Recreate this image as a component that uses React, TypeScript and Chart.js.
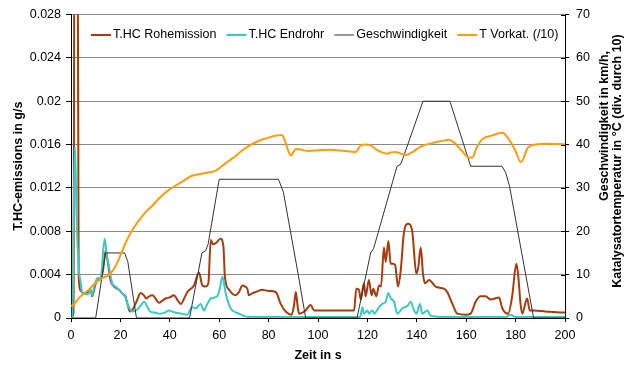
import { useEffect, useRef } from 'react';
import { Chart, registerables } from 'chart.js';

Chart.register(...registerables);

const FONT = "'Liberation Sans', Arial, sans-serif";

// Time axis (s)
const timeTicks = [0, 20, 40, 60, 80, 100, 120, 140, 160, 180, 200];
const timeTickLabels = ['0', '20', '40', '60', '80', '100', '120', '140', '160', '180', '200'];

// Left axis: HC emissions (g/s)
const emissionTicks = [0, 0.004, 0.008, 0.012, 0.016, 0.02, 0.024, 0.028];
const emissionTickLabels = ['0', '0.004', '0.008', '0.012', '0.016', '0.02', '0.024', '0.028'];

// Right axis: speed (km/h) and catalyst temperature (°C / 10)
const rightTicks = [0, 10, 20, 30, 40, 50, 60, 70];
const rightTickLabels = ['0', '10', '20', '30', '40', '50', '60', '70'];

const seriesLabels = ['T.HC Rohemission', 'T.HC Endrohr', 'Geschwindigkeit', 'T Vorkat. (/10)'];

// T.HC Rohemission (engine-out)
const rohTime = [
  0, 1, 1.5, 2.5, 3.1, 4, 5, 6, 7, 8, 8.6, 10, 11, 12, 13, 14, 15, 16, 17, 18, 19.4, 21, 22, 23, 23.8,
  25, 26.5, 28.2, 29.5, 30.5, 31.6, 33, 34.5, 35.6, 37, 38.3, 40, 41.7, 43, 44.4, 46, 47.1, 49.8, 51.8,
  53.2, 54.5, 55.6, 56.6, 57.5, 58.6, 60.6, 61.7, 62.3, 64, 66.7, 68, 69.4, 70.5, 71.4, 72, 73.5, 74.8,
  77.5, 80, 82.9, 84.9, 86.9, 89.3, 90.3, 91, 91.7, 92.3, 95, 97, 98.4, 100, 114.6, 115.5, 116.6, 117.3,
  118.6, 119.3, 120.6, 121.7, 122.4, 123.6, 124.7, 125.5, 126.7, 127.4, 128.5, 129.4, 130.4, 131.2,
  132.4, 133.5, 134.8, 136.5, 138.2, 139.8, 140.6, 141.6, 142.5, 143.3, 145, 147.6, 151, 152.3, 154.4,
  156.4, 159.8, 161.8, 163.8, 165.9, 167.9, 169.9, 173.3, 174.6, 177, 178.6, 180.3, 181.1, 182, 182.7,
  184.1, 184.7, 185.7, 187.4, 192.1, 198.9, 200,
];
const rohValue = [
  0, 0.0005, 0.05, 0.05, 0.004, 0.0025, 0.0023, 0.0023, 0.0024, 0.0025, 0.002, 0.0032, 0.0035, 0.0036,
  0.0045, 0.0062, 0.005, 0.0035, 0.003, 0.0028, 0.0026, 0.0022, 0.002, 0.0012, 0.0006,
  0.0008, 0.0015, 0.0023, 0.0021, 0.0018, 0.002, 0.0021, 0.0017, 0.0014, 0.0016, 0.0018, 0.0019, 0.0021,
  0.0017, 0.0013, 0.0019, 0.0024, 0.003, 0.0042,
  0.003, 0.0029, 0.0032, 0.0072, 0.0068, 0.0069, 0.0073, 0.0066, 0.0038, 0.0026, 0.0021, 0.0024, 0.003,
  0.0029, 0.0027, 0.0021, 0.0023, 0.0024,
  0.0026, 0.0025, 0.0024, 0.0013, 0.0006, 0.0003, 0.0012, 0.0024, 0.0012, 0.0004, 0.0007, 0.0012, 0.0007,
  0.0007, 0.0007, 0.0027, 0.0026, 0.0017,
  0.0032, 0.002, 0.0035, 0.0021, 0.0027, 0.002, 0.003, 0.0029, 0.0065, 0.0052, 0.0071, 0.005, 0.005, 0.0049,
  0.0029, 0.0044, 0.0079, 0.0087, 0.0079, 0.0041, 0.0047, 0.0065, 0.0041, 0.0032, 0.0035, 0.0029, 0.0027,
  0.0024, 0.0013,
  0.0004, 0.0003, 0.0004, 0.0015, 0.002, 0.002, 0.0017, 0.0019, 0.0009, 0.0004, 0.002, 0.005, 0.0038,
  0.0013, 0.0004,
  0.0015, 0.0018, 0.0007, 0.0007, 0.0006, 0.0005, 0.0005,
];

// T.HC Endrohr (tailpipe)
const endTime = [
  0, 0.6, 1, 1.6, 2.2, 3, 3.9, 4.6, 6, 7, 8, 8.6, 9.5, 10.7, 12, 13.6, 14.5, 15.4, 16.7, 18, 19.4, 21,
  22, 23, 24.2, 25, 27, 28, 29.6, 31, 32, 34, 36, 38, 39.7, 42, 45, 47, 49, 50.5, 52.5, 53.8, 55, 56.6,
  59.2, 60.3, 61.3, 62.6, 64.6, 66, 68, 70, 72, 116, 117, 118, 118.6, 120, 120.6, 122, 122.7, 124.7, 126,
  127.4, 128.5, 129.4, 130.8, 132.1, 134.2, 136.2, 137.5, 138.9, 139.8, 141.3, 142.2, 144.3, 145.6, 150,
  176, 178, 180, 200,
];
const endValue = [
  0, 0, 0.008, 0.0158, 0.01, 0.005, 0.0033, 0.0023, 0.0022, 0.0022, 0.0026, 0.0021, 0.003, 0.0037, 0.0037,
  0.0073, 0.0058, 0.0047, 0.0032, 0.0029, 0.0026, 0.0022,
  0.0019, 0.0012, 0.0007, 0.0006, 0.0008, 0.0011, 0.0015, 0.001, 0.0006, 0.0005, 0.0004, 0.0005, 0.0007,
  0.0005, 0.0004, 0.0003, 0.001, 0.0009, 0.0013, 0.0007, 0.0012, 0.0018,
  0.002, 0.0028, 0.0038, 0.0023, 0.0009, 0.0006, 0.0004, 0.0002, 0.0001, 0.0001, 0.0001, 0.001, 0.0004,
  0.0007, 0.0004, 0.0007, 0.0004, 0.001, 0.0013,
  0.0015, 0.0023, 0.0018, 0.0015, 0.0004, 0.0009, 0.0011, 0.0015, 0.0007, 0.0004, 0.0013, 0.0004, 0.0007,
  0.0002, 0.0001,
  0.0001, 0.0003, 0.0001, 0.0001,
];

// Geschwindigkeit (km/h)
const speedTime = [
  0, 10, 14, 21.7, 23, 26.5, 48, 53, 54.5, 55.5, 60, 84, 86, 92, 95, 115.8, 121.3, 122.5, 132, 133.5,
  134.5, 142.5, 153.4, 161.8, 174.5, 176, 177.5, 187.3, 200,
];
const speedValue = [
  0, 0, 15, 15, 13, 0, 0, 15, 15.5, 17, 32, 32, 29, 10, 0, 0, 15, 16, 35, 35.5,
  37, 50, 50, 35, 35, 33.5, 30.5, 0, 0,
];

// T Vorkat. (°C / 10)
const tempTime = [
  0, 1, 3.2, 5, 7, 9, 11.3, 13, 15.4, 17, 18.6, 20, 22, 24, 27.5, 30, 32.9, 36, 39.7, 43.7, 46, 49, 52,
  55, 58.6, 61, 64, 66.7, 69, 72, 75, 78, 80, 83, 85.4, 86.5, 87.5, 89, 90, 91, 92.5, 96.4, 100, 104.5,
  110, 115.3, 116.3, 117.3, 119, 121.3, 124, 126, 128, 129.5, 131.4, 133.5, 135.5, 138, 142.1, 146, 150,
  153, 155, 158.3, 161.1, 162.5, 164, 166.4, 170, 174.5, 175.5, 177.3, 180, 182, 183, 184.6, 186, 188,
  192, 200,
];
const tempValue = [
  2.8, 3, 4.6, 5.5, 6.4, 7.6, 8.7, 9.3, 9.9, 11, 12.6, 14.5, 17.2, 19.5, 22.5, 24.3, 25.9, 27.8, 29.6,
  31, 31.8, 32.8, 33.2,
  33.5, 34, 35, 36.3, 37.4, 38.5, 39.7, 40.6, 41.3, 41.6, 42.1, 42.2, 41, 39.3, 37.5, 38.2, 39, 38.9,
  38.5, 38.7, 38.8,
  38.6, 38.3, 39, 39.8, 40, 39.8, 38.7, 38.2, 37.9, 38.2, 38.3, 37.9, 37.6, 38.2, 39.7, 40.3, 40.8,
  41.1, 40.5, 38.5, 37, 37, 39, 41.2, 42, 42.7, 42.5, 41.2, 38.5, 36, 36.5, 39, 39.7, 40,
  40.2, 40.1,
];

const toPoints = (t: number[], v: number[]) => t.map((x, i) => ({ x, y: v[i] }));

const lineColors = ['#a53c0e', '#3cc8c8', '#333333', '#ff9c10'];
const lineWidths = [2, 2, 1, 2];

const overlayPlugin = {
  id: 'overlay',
  afterDraw(chart: any) {
    const ctx: CanvasRenderingContext2D = chart.ctx;
    ctx.save();
    // legend inside the plot area
    ctx.font = `12.5px ${FONT}`;
    ctx.textBaseline = 'middle';
    ctx.textAlign = 'left';
    let x = 91;
    const y = 35;
    chart.data.datasets.forEach((ds: any) => {
      ctx.strokeStyle = ds.borderColor;
      ctx.lineWidth = ds.borderWidth;
      ctx.beginPath();
      ctx.moveTo(x, y);
      ctx.lineTo(x + 20, y);
      ctx.stroke();
      x += 22;
      ctx.fillStyle = '#000';
      ctx.fillText(ds.label, x, y);
      x += ctx.measureText(ds.label).width + 10;
    });

    // right axis: tick marks crossing into the plot
    const right = chart.scales.y1;
    ctx.strokeStyle = '#000';
    ctx.lineWidth = 1;
    rightTicks.forEach((v) => {
      const py = Math.round(right.getPixelForValue(v)) + 0.5;
      ctx.beginPath();
      ctx.moveTo(right.left - 4, py);
      ctx.lineTo(right.left, py);
      ctx.stroke();
    });

    // right axis title, reading bottom to top
    ctx.font = `bold 12.5px ${FONT}`;
    ctx.textAlign = 'center';
    ctx.fillStyle = '#000';
    const lines = [
      { text: 'Geschwindigkeit in km/h,', cx: 604.5, cy: 126 },
      { text: 'Katalysatortemperatur in °C (div. durch 10)', cx: 618, cy: 161 },
    ];
    lines.forEach((l) => {
      ctx.save();
      ctx.translate(l.cx, l.cy);
      ctx.rotate(-Math.PI / 2);
      ctx.fillText(l.text, 0, 0);
      ctx.restore();
    });
    ctx.restore();
  },
};

export default function App() {
  const canvasRef = useRef<HTMLCanvasElement | null>(null);

  useEffect(() => {
    if (!canvasRef.current) return;
    const tickFont = { family: FONT, size: 12.5 };
    const titleFont = { family: FONT, size: 12.5, weight: 'bold' as const };

    const chart = new Chart(canvasRef.current, {
      type: 'line',
      data: {
        datasets: [
          {
            label: seriesLabels[0],
            data: toPoints(rohTime, rohValue),
            yAxisID: 'y',
            borderColor: lineColors[0],
            borderWidth: lineWidths[0],
            cubicInterpolationMode: 'monotone',
            order: 4,
          },
          {
            label: seriesLabels[1],
            data: toPoints(endTime, endValue),
            yAxisID: 'y',
            borderColor: lineColors[1],
            borderWidth: lineWidths[1],
            cubicInterpolationMode: 'monotone',
            order: 3,
          },
          {
            label: seriesLabels[2],
            data: toPoints(speedTime, speedValue),
            yAxisID: 'y1',
            borderColor: lineColors[2],
            borderWidth: lineWidths[2],
            tension: 0,
            order: 2,
          },
          {
            label: seriesLabels[3],
            data: toPoints(tempTime, tempValue),
            yAxisID: 'y1',
            borderColor: lineColors[3],
            borderWidth: lineWidths[3],
            cubicInterpolationMode: 'monotone',
            order: 1,
          },
        ],
      },
      options: {
        responsive: false,
        animation: false,
        events: [],
        layout: { padding: { top: 13, left: 0, right: 0, bottom: 0 } },
        elements: { point: { radius: 0 } },
        plugins: { legend: { display: false }, tooltip: { enabled: false } },
        scales: {
          x: {
            type: 'linear',
            min: 0,
            max: 200,
            afterBuildTicks: (s: any) => {
              s.ticks = timeTicks.map((v) => ({ value: v }));
            },
            afterFit: (s: any) => {
              s.height = 47;
            },
            ticks: {
              font: tickFont,
              color: '#000',
              padding: 6,
              maxRotation: 0,
              callback: (_v: any, i: number) => timeTickLabels[i],
            },
            grid: { drawOnChartArea: false, tickLength: 4, tickColor: '#000' },
            border: { color: '#000', width: 1 },
            title: { display: true, text: 'Zeit in s', font: titleFont, color: '#000', padding: { top: 0, bottom: 1.5 } },
          },
          y: {
            type: 'linear',
            position: 'left',
            min: 0,
            max: 0.028,
            afterBuildTicks: (s: any) => {
              s.ticks = emissionTicks.map((v) => ({ value: v }));
            },
            afterFit: (s: any) => {
              s.width = 71;
            },
            ticks: {
              font: tickFont,
              color: '#000',
              padding: 5,
              callback: (_v: any, i: number) => emissionTickLabels[i],
            },
            grid: { color: '#8a8a8a', lineWidth: 1, tickLength: 5, tickColor: '#000' },
            border: { color: '#000', width: 1 },
            title: {
              display: true,
              text: 'T.HC-emissions in g/s',
              font: titleFont,
              color: '#000',
              padding: { top: 11, bottom: 0 },
            },
          },
          y1: {
            type: 'linear',
            position: 'right',
            min: 0,
            max: 70,
            afterBuildTicks: (s: any) => {
              s.ticks = rightTicks.map((v) => ({ value: v }));
            },
            afterFit: (s: any) => {
              s.width = 64;
            },
            ticks: {
              font: tickFont,
              color: '#000',
              padding: 7,
              callback: (_v: any, i: number) => rightTickLabels[i],
            },
            grid: { drawOnChartArea: false, tickLength: 4, tickColor: '#000' },
            border: { color: '#000', width: 1 },
          },
        },
      },
      plugins: [overlayPlugin],
    });
    return () => chart.destroy();
  }, []);

  return (
    <div style={{ position: 'absolute', left: 0, top: 0, width: 629, height: 365, background: '#fff' }}>
      <canvas ref={canvasRef} width={629} height={365} style={{ display: 'block' }} />
    </div>
  );
}
